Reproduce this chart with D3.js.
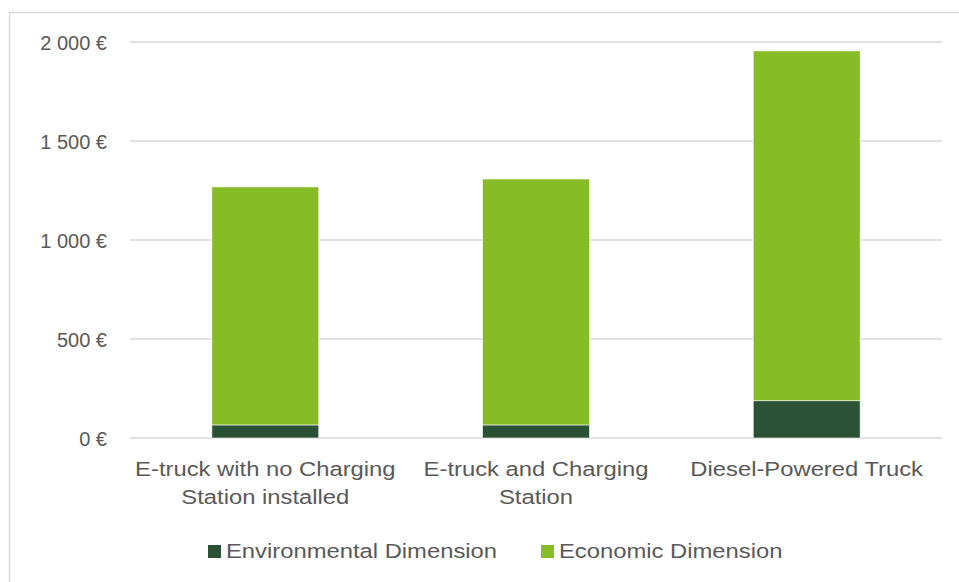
<!DOCTYPE html>
<html><head><meta charset="utf-8">
<script src="https://cdn.jsdelivr.net/npm/d3@7"></script>
<style>body{margin:0;background:#fff;} svg{display:block;font-family:"Liberation Sans",Arial,sans-serif;}</style>
</head><body>
<svg id="c" width="959" height="582"></svg>
<script>
const categories = [["E-truck with no Charging","Station installed"],["E-truck and Charging","Station"],["Diesel-Powered Truck"]];
const categoryKeys = ["E-truck with no Charging Station installed","E-truck and Charging Station","Diesel-Powered Truck"];
const environmental = [66, 66, 188];
const economic = [1202, 1242, 1767];
const seriesNames = ["Environmental Dimension","Economic Dimension"];
const seriesColors = ["#2B5234","#86BC25"];
const yTicks = [0, 500, 1000, 1500, 2000];

const SX = 1.19; // horizontal stretch of the reference's text
const svg = d3.select("#c");
svg.append("path").attr("d","M9.5,582 V12.5 H959").attr("fill","none").attr("stroke","#D9D9D9").attr("stroke-width",1.5);

const x = d3.scaleBand().domain(categoryKeys).range([130, 942]).paddingInner(0.605).paddingOuter(0.3025);
const y = d3.scaleLinear().domain([0, 2000]).range([438, 42]);
const fmt = v => d3.format(",")(v).replace(/,/g, " ") + " €";

svg.append("g").selectAll("line").data(yTicks).join("line")
  .attr("x1",130).attr("x2",942).attr("y1",d=>y(d)).attr("y2",d=>y(d))
  .attr("stroke","#D9D9D9").attr("stroke-width",1.5);

const yAxis = d3.axisLeft(y).tickValues(yTicks).tickFormat(fmt).tickSize(0).tickPadding(0);
const ga = svg.append("g").attr("transform","translate(107,0)").call(yAxis);
ga.select(".domain").remove();
ga.selectAll("text").attr("font-size",20).attr("fill","#595959").attr("font-family","Liberation Sans, Arial, sans-serif").attr("dy","0.35em");

const rows = categoryKeys.map((k,i)=>({key:k, env:environmental[i], eco:economic[i]}));
const stack = d3.stack().keys(["env","eco"])(rows);
svg.append("g").selectAll("g").data(stack).join("g").attr("fill",(d,i)=>seriesColors[i])
  .selectAll("rect").data(d=>d).join("rect")
  .attr("x",d=>x(d.data.key)).attr("width",x.bandwidth())
  .attr("y",d=>y(d[1])).attr("height",d=>y(d[0])-y(d[1]))
  .attr("stroke","#fff").attr("stroke-width",0.6);

const cl = svg.append("g");
categories.forEach((lines,i)=>{
  const cx = x(categoryKeys[i]) + x.bandwidth()/2;
  const t = cl.append("text").attr("text-anchor","middle").attr("font-size",20).attr("fill","#595959")
    .attr("transform",`translate(${cx},0) scale(${SX},1)`);
  lines.forEach((ln,j)=>{
    t.append("tspan").attr("x", 0).attr("y", 476 + j*28).text(ln);
  });
});

const legendX = [208, 541];
const lg = svg.append("g");
seriesNames.forEach((n,i)=>{
  lg.append("rect").attr("x",legendX[i]).attr("y",545).attr("width",13).attr("height",13).attr("fill",seriesColors[i]);
  lg.append("text").attr("font-size",20).attr("fill","#595959")
    .attr("transform",`translate(${legendX[i]+18},558) scale(${SX},1)`).text(n);
});
</script>
</body></html>
